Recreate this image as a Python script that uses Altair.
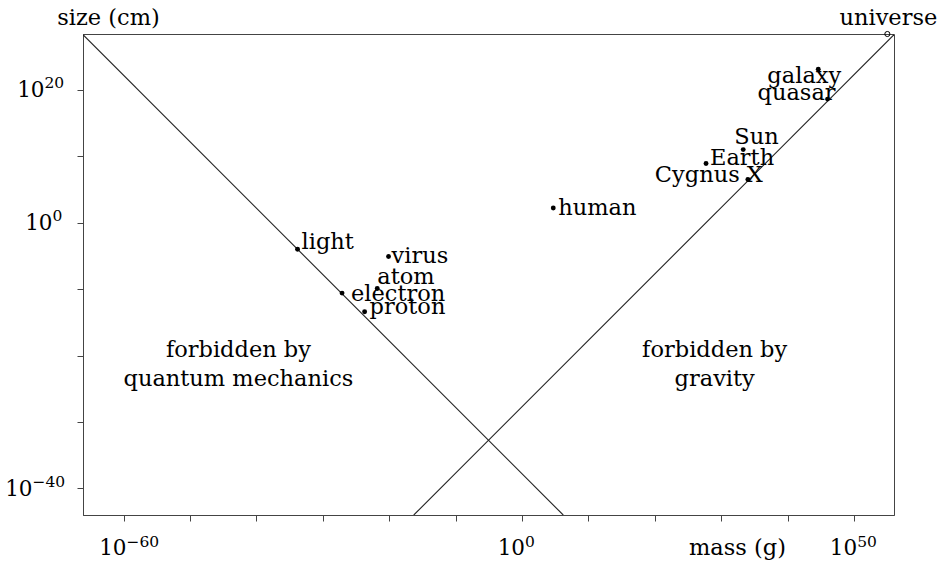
import altair as alt
import pandas as pd

# Objects: mass (g) and size (cm), both as powers of ten
names = ["light", "virus", "atom", "electron", "proton", "human",
         "Earth", "Sun", "Cygnus X", "galaxy", "quasar", "universe"]
log_mass = [-33.8, -20.1, -21.8, -27.1, -23.7, 4.7, 27.7, 33.3, 34.0, 44.6, 46.0, 55.0]
log_size = [-4.0, -5.1, -9.9, -10.6, -13.4, 2.2, 8.9, 11.0, 6.5, 23.1, 18.6, 28.4]

# Boundary lines (endpoints, powers of ten)
quantum_mass = [-66.1, 6.2]
quantum_size = [28.3, -44.0]
gravity_mass = [-16.3, 56.0]
gravity_size = [-44.0, 28.3]

# Region annotations
region_text = ["forbidden by\nquantum mechanics", "forbidden by\ngravity"]
region_mass = [-42.7, 29.0]
region_size = [-20.2, -20.2]

# Axes
x_domain_exp = [-66.1, 56.0]
y_domain_exp = [-44.0, 28.4]
x_tick_exp = list(range(-60, 51, 10))
y_tick_exp = list(range(-40, 21, 10))
x_label_exp = [-60, 0, 50]
x_label_sup = ["\u221260", "0", "50"]
y_label_exp = [20, 0, -40]
y_label_sup = ["20", "0", "\u221240"]

FONT = "DejaVu Serif"
FS = 22.5
TICK_FS = 21.5
SUP_FS = 15.5
INK = "#000000"
FRAME = "#444444"

pts = pd.DataFrame({
    "name": names,
    "mass": [10.0 ** e for e in log_mass],
    "size": [10.0 ** e for e in log_size],
})
lines = pd.DataFrame({
    "boundary": ["quantum"] * 2 + ["gravity"] * 2,
    "mass": [10.0 ** e for e in quantum_mass + gravity_mass],
    "size": [10.0 ** e for e in quantum_size + gravity_size],
    "order": [0, 1, 0, 1],
})
regions = pd.DataFrame({
    "text": region_text,
    "mass": [10.0 ** e for e in region_mass],
    "size": [10.0 ** e for e in region_size],
})
xlab = pd.DataFrame({
    "mass": [10.0 ** e for e in x_label_exp],
    "base": ["10"] * len(x_label_exp),
    "sup": x_label_sup,
})
ylab = pd.DataFrame({
    "size": [10.0 ** e for e in y_label_exp],
    "base": ["10"] * len(y_label_exp),
    "sup": y_label_sup,
})

x_scale = alt.Scale(type="log", domain=[10.0 ** v for v in x_domain_exp], nice=False)
y_scale = alt.Scale(type="log", domain=[10.0 ** v for v in y_domain_exp], nice=False)

x_axis = alt.Axis(
    values=[10.0 ** e for e in x_tick_exp], labels=False,
    grid=False, tickSize=6, tickColor=FRAME, domainColor=FRAME,
    title="mass (g)", titleFont=FONT, titleFontSize=FS, titleFontWeight="normal",
    titleColor=INK, titleX=654, titleY=39, titleAlign="center",
    titleBaseline="alphabetic", titleAnchor=None,
)
y_axis = alt.Axis(
    values=[10.0 ** e for e in y_tick_exp], labels=False,
    grid=False, tickSize=6, tickColor=FRAME, domainColor=FRAME,
    title="size (cm)", titleFont=FONT, titleFontSize=FS, titleFontWeight="normal",
    titleColor=INK, titleAngle=0, titleX=25, titleY=-10, titleAlign="center",
    titleBaseline="alphabetic", titleAnchor=None,
)

x_enc = alt.X("mass:Q", scale=x_scale, axis=x_axis)
y_enc = alt.Y("size:Q", scale=y_scale, axis=y_axis)

boundary = alt.Chart(lines).mark_line(color="#222222", strokeWidth=1.1, clip=True).encode(
    x=x_enc, y=y_enc, detail="boundary:N", order="order:Q"
)

dots = alt.Chart(pts).transform_filter("datum.name != 'universe'").mark_point(
    filled=True, color=INK, size=24, opacity=1
).encode(x="mass:Q", y="size:Q")

universe = alt.Chart(pts).transform_filter("datum.name == 'universe'").mark_point(
    filled=False, color=INK, size=26, strokeWidth=1, opacity=1
).encode(x="mass:Q", y="size:Q")

# label placement relative to each dot: (align, dx, dy)
label_style = {
    "light": ("left", 4, 0),
    "virus": ("left", 3, 6),
    "atom": ("left", 0, -4),
    "electron": ("left", 9, 8),
    "proton": ("left", 5, 2),
    "human": ("left", 5, 7),
    "Earth": ("left", 4, 1),
    "Sun": ("left", -9, -6),
    "Cygnus X": ("right", 15, 3),
    "galaxy": ("center", -14, 14),
    "quasar": ("right", 8, 1),
    "universe": ("center", 1, -9),
}

label_layers = []
for nm, (al, dx, dy) in label_style.items():
    label_layers.append(
        alt.Chart(pts).transform_filter(f"datum.name == '{nm}'").mark_text(
            font=FONT, fontSize=FS, color=INK, align=al, baseline="alphabetic",
            dx=dx, dy=dy
        ).encode(x="mass:Q", y="size:Q", text="name:N")
    )

region_labels = alt.Chart(regions).mark_text(
    font=FONT, fontSize=FS, color=INK, align="center", baseline="alphabetic",
    lineBreak="\n", lineHeight=29.5
).encode(x="mass:Q", y="size:Q", text="text:N")

# Tick labels "10" with superscript exponents, placed through the scales
x_row = alt.value(521)  # label baseline row below the plot
xbase = alt.Chart(xlab).mark_text(
    font=FONT, fontSize=TICK_FS, color=INK, align="right", baseline="alphabetic", dx=3
).encode(x="mass:Q", y=x_row, text="base:N")
xsup = alt.Chart(xlab).mark_text(
    font=FONT, fontSize=SUP_FS, color=INK, align="left", baseline="alphabetic", dx=3, dy=-8.5
).encode(x="mass:Q", y=x_row, text="sup:N")

# y labels: "10" right edge per label, exponent directly after it
y_base_right = {"20": -38.5, "0": -30.5, "\u221240": -50.5}
y_layers = []
for sup, xr in y_base_right.items():
    sub = ylab[ylab["sup"] == sup]
    y_layers.append(alt.Chart(sub).mark_text(
        font=FONT, fontSize=TICK_FS, color=INK, align="right", baseline="alphabetic", dy=7.5
    ).encode(x=alt.value(xr), y="size:Q", text="base:N"))
    y_layers.append(alt.Chart(sub).mark_text(
        font=FONT, fontSize=SUP_FS, color=INK, align="left", baseline="alphabetic", dy=-1.5
    ).encode(x=alt.value(xr), y="size:Q", text="sup:N"))

chart = alt.layer(
    boundary, dots, universe, region_labels, *label_layers, xbase, xsup, *y_layers
).properties(
    width=811, height=481,
    padding={"left": 83, "top": 34, "right": 44, "bottom": 48},
    autosize=alt.AutoSizeParams(type="none"),
    background="white",
).configure_view(stroke=FRAME, strokeWidth=1)

chart.save("out.html", embed_options={"renderer": "svg", "actions": False})
